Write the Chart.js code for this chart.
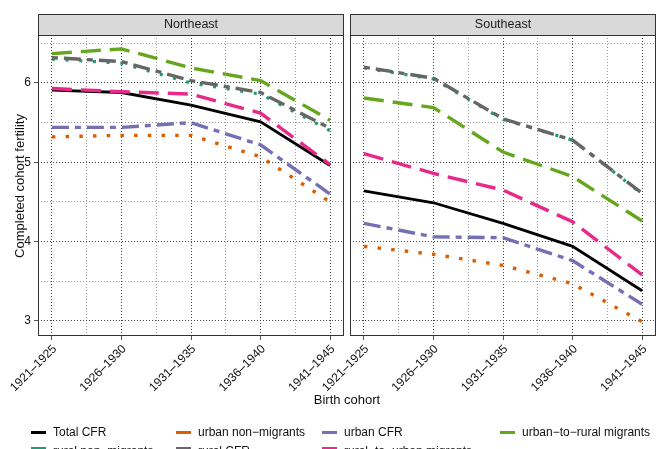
<!DOCTYPE html>
<html>
<head>
<meta charset="utf-8">
<script src="https://cdn.jsdelivr.net/npm/chart.js@4.4.1/dist/chart.umd.min.js"></script>
<style>
  body { margin: 0; background: #fff; font-family: "Liberation Sans", Arial, sans-serif; }
  #wrap { position: relative; width: 660px; height: 449px; overflow: hidden; }
  #wrap canvas { position: absolute; top: 0; }
  #ne { left: 0; }
  #se { left: 297px; }
  .lbl { position: absolute; font-size: 12px; line-height: 14px; color: #111; white-space: nowrap; }
  .axt { font-size: 13px; line-height: 15px; }
  #ytitle { left: 19px; top: 186px; transform: translate(-50%, -50%) rotate(-90deg); }
  #xtitle { left: 347px; top: 392px; transform: translateX(-50%); }
  .key { position: absolute; width: 15px; height: 3.5px; }
</style>
</head>
<body>
<div id="wrap">
  <canvas id="ne" width="347" height="400"></canvas>
  <canvas id="se" width="363" height="400"></canvas>
  <div class="lbl axt" id="ytitle">Completed cohort fertility</div>
  <div class="lbl axt" id="xtitle">Birth cohort</div>
  <div id="legend"></div>
</div>
<script>
// birth cohorts on the x axis
const cohorts = ['1921–1925', '1926–1930', '1931–1935', '1936–1940', '1941–1945'];
const regions = ['Northeast', 'Southeast'];
const yTicks = [3, 3.5, 4, 4.5, 5, 5.5, 6, 6.5];

const seriesNames = ['Total CFR', 'urban non−migrants', 'urban CFR', 'urban−to−rural migrants',
                     'rural non−migrants', 'rural CFR', 'rural−to−urban migrants'];

// completed cohort fertility, Northeast
const totalNE        = [5.91, 5.88, 5.72, 5.51, 4.96];
const urbanNonMigNE  = [5.32, 5.34, 5.34, 5.07, 4.50];
const urbanCfrNE     = [5.44, 5.44, 5.50, 5.22, 4.60];
const urbanRuralNE   = [6.37, 6.43, 6.19, 6.03, 5.53];
const ruralNonMigNE  = [6.30, 6.25, 6.00, 5.86, 5.40];
const ruralCfrNE     = [6.32, 6.27, 6.03, 5.88, 5.43];
const ruralUrbanNE   = [5.93, 5.89, 5.86, 5.62, 4.97];

// completed cohort fertility, Southeast
const totalSE        = [4.64, 4.49, 4.23, 3.94, 3.38];
const urbanNonMigSE  = [3.94, 3.84, 3.70, 3.47, 2.99];
const urbanCfrSE     = [4.23, 4.06, 4.05, 3.76, 3.21];
const urbanRuralSE   = [5.81, 5.69, 5.13, 4.82, 4.26];
const ruralNonMigSE  = [6.19, 6.05, 5.54, 5.28, 4.60];
const ruralCfrSE     = [6.20, 6.06, 5.55, 5.28, 4.61];
const ruralUrbanSE   = [5.11, 4.86, 4.65, 4.25, 3.58];

const seriesNE = [totalNE, urbanNonMigNE, urbanCfrNE, urbanRuralNE, ruralNonMigNE, ruralCfrNE, ruralUrbanNE];
const seriesSE = [totalSE, urbanNonMigSE, urbanCfrSE, urbanRuralSE, ruralNonMigSE, ruralCfrSE, ruralUrbanSE];

const colors = ['#000000', '#D95F02', '#7570B3', '#66A61E', '#1B9E77', '#666666', '#E7298A'];
const dashes = [[], [3.5, 10.2], [17, 6, 6, 6], [20, 9], [3, 10.7], [6, 6, 17, 6], [20, 9]];
const widths = [2.8, 3.4, 3.4, 3.4, 3.2, 3.4, 3.4];

Chart.defaults.font.family = '"Liberation Sans", Arial, sans-serif';
Chart.defaults.font.size = 12;
Chart.defaults.color = '#111';

// grey strip on top of each panel plus the panel frame
const panelFrame = {
  id: 'panelFrame',
  afterDraw(chart, args, opts) {
    const { ctx, chartArea: a } = chart;
    const top = 14;
    ctx.save();
    ctx.fillStyle = '#d9d9d9';
    ctx.fillRect(a.left, top, a.width, a.top - top);
    ctx.strokeStyle = '#333';
    ctx.lineWidth = 1;
    ctx.strokeRect(a.left + 0.5, top + 0.5, a.width - 1, a.top - top);
    ctx.strokeRect(a.left + 0.5, a.top + 0.5, a.width - 1, a.height - 1);
    ctx.fillStyle = '#1a1a1a';
    ctx.font = '12.5px "Liberation Sans", Arial, sans-serif';
    ctx.textAlign = 'center';
    ctx.textBaseline = 'middle';
    ctx.fillText(opts.title, (a.left + a.right) / 2, (top + a.top) / 2 + 0.5);
    ctx.restore();
  }
};

const isMajor = v => Number.isInteger(v);

function makeChart(id, values, title, showY, padding) {
  const datasets = values.map((vals, i) => ({
    label: seriesNames[i],
    data: vals.map((v, j) => ({ x: j, y: v })),
    borderColor: colors[i],
    borderWidth: widths[i],
    borderDash: dashes[i],
    borderCapStyle: 'butt',
    pointRadius: 0,
    tension: 0,
    fill: false,
    order: values.length - 1 - i
  }));

  return new Chart(document.getElementById(id), {
    type: 'line',
    data: { datasets },
    options: {
      responsive: false,
      animation: false,
      devicePixelRatio: 1,
      layout: { padding },
      plugins: {
        legend: { display: false },
        tooltip: { enabled: false },
        panelFrame: { title }
      },
      scales: {
        x: {
          type: 'linear',
          min: -0.2,
          max: cohorts.length - 0.8,
          afterBuildTicks: axis => {
            axis.ticks = [];
            for (let v = 0; v <= cohorts.length - 1; v += 0.5) axis.ticks.push({ value: v });
          },
          afterFit: axis => {
            axis.height = 64;
            axis.paddingLeft = 0;
            axis.paddingRight = 0;
          },
          ticks: {
            autoSkip: false,
            minRotation: 45,
            maxRotation: 45,
            padding: 2,
            labelOffset: 3,
            color: '#111',
            callback: v => isMajor(v) ? cohorts[v] : ''
          },
          grid: {
            color: ctx => isMajor(ctx.tick.value) ? '#444' : '#9a9a9a',
            lineWidth: 1,
            tickLength: 4,
            tickColor: ctx => isMajor(ctx.tick.value) ? '#555' : 'rgba(0,0,0,0)',
            tickBorderDash: []
          },
          border: { display: false, dash: [1, 2] }
        },
        y: {
          type: 'linear',
          min: 2.81,
          max: 6.605,
          afterBuildTicks: axis => { axis.ticks = yTicks.map(v => ({ value: v })); },
          afterFit: axis => { axis.width = showY ? 38 : 0; },
          ticks: {
            display: showY,
            padding: 3,
            color: '#111',
            callback: v => isMajor(v) ? String(v) : ''
          },
          grid: {
            color: ctx => isMajor(ctx.tick.value) ? '#444' : '#9a9a9a',
            lineWidth: 1,
            drawTicks: showY,
            tickLength: 4,
            tickColor: ctx => isMajor(ctx.tick.value) ? '#555' : 'rgba(0,0,0,0)',
            tickBorderDash: []
          },
          border: { display: false, dash: [1, 2] }
        }
      }
    },
    plugins: [panelFrame]
  });
}

makeChart('ne', seriesNE, regions[0], true, { top: 35, right: 3, bottom: 0, left: 0 });
makeChart('se', seriesSE, regions[1], false, { top: 35, right: 4, bottom: 0, left: 53 });

// legend laid out by row, four columns (second row runs off the bottom edge)
const legendCols = [31, 176, 322, 500];
const keyRows = [432.3, 448.5];
const textRows = [432.3, 450.5];
const legend = document.getElementById('legend');
seriesNames.forEach((name, i) => {
  const x = legendCols[i % 4];
  const row = Math.floor(i / 4);
  const key = document.createElement('div');
  key.className = 'key';
  key.style.left = x + 'px';
  key.style.top = (keyRows[row] - 1.75) + 'px';
  key.style.background = colors[i];
  const txt = document.createElement('div');
  txt.className = 'lbl';
  txt.style.left = (x + 22) + 'px';
  txt.style.top = (textRows[row] - 7) + 'px';
  txt.textContent = name;
  legend.appendChild(key);
  legend.appendChild(txt);
});
</script>
</body>
</html>
